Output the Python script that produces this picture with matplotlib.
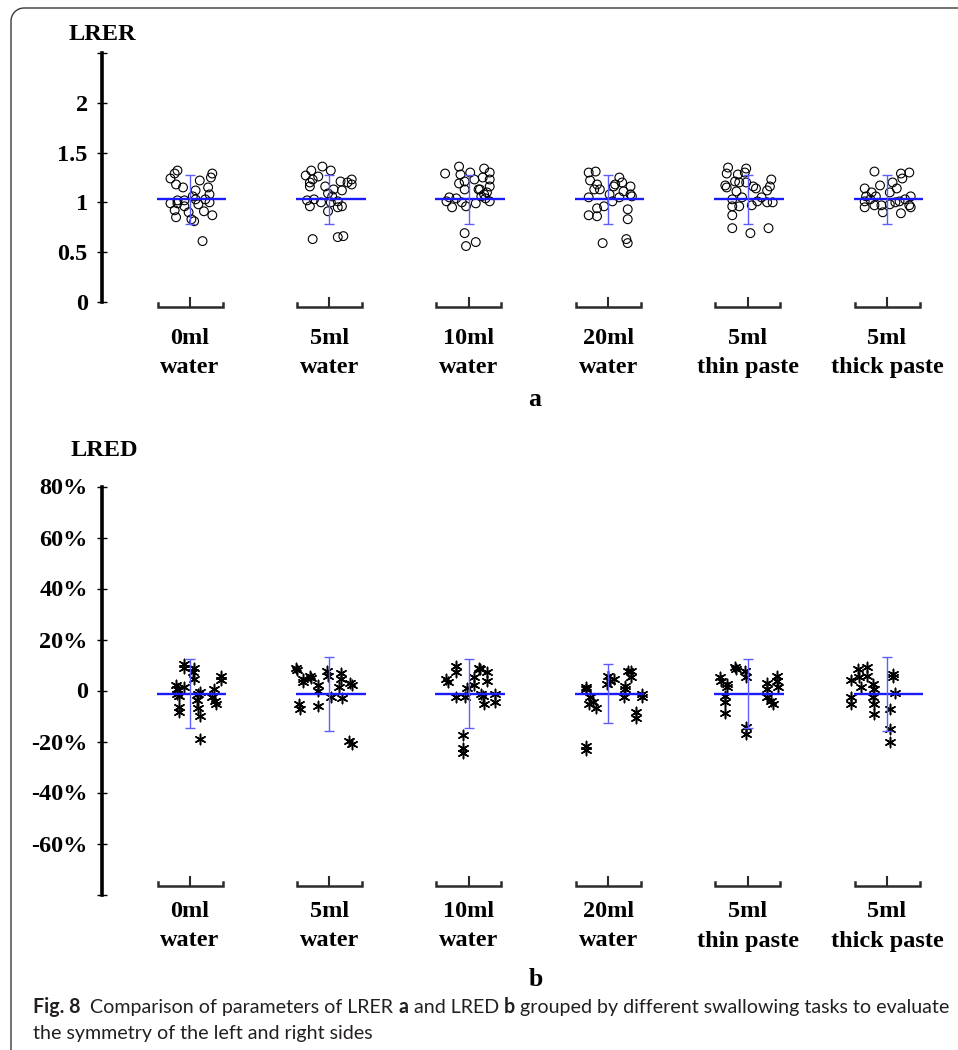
import numpy as np
import matplotlib
matplotlib.use("Agg")
import matplotlib.pyplot as plt
from matplotlib import transforms
from matplotlib.lines import Line2D

W, H, DPI = 958, 1050, 100

tasks = ["0ml\nwater", "5ml\nwater", "10ml\nwater", "20ml\nwater",
         "5ml\nthin paste", "5ml\nthick paste"]

# LRER per task, with horizontal jitter of each point (in task widths)
lrer_values = [
    [1.32, 1.29, 1.24, 1.18, 1.15, 1.22, 1.29, 1.25, 1.12, 1.15, 1.08, 1.06, 0.99, 1.02, 1.02,
     0.99, 0.96, 0.92, 0.90, 0.98, 1.00, 0.91, 0.87, 0.85, 0.83, 0.81, 0.61, 1.03, 1.03],
    [1.36, 1.32, 1.27, 1.32, 1.23, 1.20, 1.16, 1.26, 1.21, 1.23, 1.20, 1.18, 1.13, 1.12, 1.09,
     1.06, 1.02, 1.00, 1.00, 1.01, 0.96, 0.95, 0.96, 0.91, 0.63, 0.65, 0.66, 1.16, 1.03],
    [1.36, 1.29, 1.28, 1.30, 1.19, 1.21, 1.23, 1.13, 1.13, 1.05, 1.04, 0.95, 1.00, 0.96, 0.99,
     1.08, 0.69, 0.56, 0.60, 1.01, 1.34, 1.30, 1.23, 1.25, 1.16, 1.13, 1.10, 1.01, 1.06, 1.04],
    [1.30, 1.31, 1.22, 1.18, 1.13, 1.13, 1.05, 0.96, 0.94, 0.87, 0.86, 0.59, 0.63, 0.59, 1.01,
     1.25, 1.18, 1.20, 1.16, 1.11, 1.05, 1.08, 1.06, 0.93, 0.83, 1.08, 1.16],
    [1.35, 1.29, 1.28, 1.34, 1.30, 1.21, 1.17, 1.15, 1.20, 1.11, 1.20, 1.16, 1.14, 1.23, 1.16,
     1.12, 1.03, 1.05, 1.05, 1.01, 1.00, 1.00, 0.96, 0.96, 0.97, 0.87, 0.74, 0.69, 0.74],
    [1.31, 1.29, 1.30, 1.24, 1.17, 1.20, 1.14, 1.14, 1.10, 1.06, 1.10, 1.06, 1.03, 1.01, 0.97,
     0.97, 0.98, 1.00, 1.01, 0.97, 0.95, 0.95, 0.90, 0.89, 1.03, 1.06],
]
lrer_jitter = [
    [-0.09, -0.11, -0.14, -0.10, -0.05, 0.07, 0.16, 0.15, 0.04, 0.13, 0.14, 0.02, -0.14, -0.09, -0.04,
     -0.09, -0.04, -0.11, -0.01, 0.06, 0.14, 0.10, 0.16, -0.10, 0.01, 0.03, 0.09, 0.04, 0.11],
    [-0.05, -0.13, -0.17, 0.01, -0.12, -0.14, -0.14, -0.08, 0.08, 0.16, 0.13, 0.16, 0.03, 0.09, -0.01,
     0.02, -0.16, -0.06, 0.01, 0.06, -0.14, 0.06, 0.09, -0.01, -0.12, 0.06, 0.10, -0.03, -0.11],
    [-0.07, -0.17, -0.06, 0.01, -0.07, -0.03, 0.04, -0.03, 0.08, -0.14, -0.09, -0.12, -0.05, -0.02, 0.05,
     0.11, -0.03, -0.02, 0.05, -0.16, 0.11, 0.15, 0.15, 0.10, 0.15, 0.07, 0.13, 0.15, 0.09, 0.12],
    [-0.14, -0.09, -0.13, -0.08, -0.10, -0.06, -0.14, -0.03, -0.08, -0.14, -0.08, -0.04, 0.13, 0.14, 0.03,
     0.08, 0.05, 0.10, 0.16, 0.11, 0.08, 0.16, 0.17, 0.14, 0.14, 0.01, 0.04],
    [-0.14, -0.15, -0.07, -0.01, -0.02, -0.09, -0.16, -0.15, -0.06, -0.08, -0.01, 0.04, 0.06, 0.17, 0.16,
     0.14, -0.11, -0.04, 0.10, 0.07, 0.14, 0.18, -0.11, -0.06, 0.03, -0.11, -0.11, 0.02, 0.15],
    [-0.09, 0.10, 0.16, 0.11, -0.05, 0.04, 0.07, -0.16, -0.11, -0.15, 0.02, 0.17, 0.13, -0.16, -0.09,
     -0.04, 0.02, 0.06, 0.09, 0.16, 0.17, -0.16, -0.03, 0.10, -0.12, -0.08],
]
lrer_mean = [1.03, 1.03, 1.03, 1.03, 1.03, 1.03]
lrer_sd = [0.25, 0.25, 0.25, 0.25, 0.25, 0.25]

# LRED per task (percent)
lred_values = [
    [10.3, 8.8, 8.8, 7.1, 4.5, 2.2, 1.2, 0.5, -1.2, -2.1, -0.4, -1.4, -3.8, -6.7, -9.9, -6.4,
     -8.6, -19.1, 0.5, -2.7, -4.0, -5.1, 5.8, 4.1],
    [9.0, 8.0, 4.5, 3.5, 5.8, 4.9, 7.5, 5.8, 2.2, -0.1, -5.3, -7.3, -6.0, -2.5, 6.7, 4.5,
     1.5, -3.0, 3.1, 2.2, -20.8, -19.9],
    [9.7, 7.1, 4.5, 3.5, -2.7, -2.7, 0.9, -17.4, -22.4, -24.7, 9.0, 5.1, 2.2, -1.4, -5.3, 8.4,
     7.1, 3.8, -2.0, -1.2, -4.7],
    [1.2, 0.5, -2.7, -4.7, -5.3, -6.7, -21.7, -23.4, 5.8, 2.5, 4.5, 3.8, 7.7, 7.7, 5.1, 1.8,
     0.5, -2.7, -8.6, -10.6, -1.4, -2.5],
    [9.3, 8.4, 7.7, 5.1, 5.1, 3.8, 2.5, 1.5, -2.1, -4.7, -9.0, -14.5, -17.1, 3.1, 0.5, -2.7,
     -4.0, -5.1, 5.8, 3.8, 1.2],
    [4.1, -2.7, -5.1, 8.4, 5.1, 1.5, 9.3, 5.8, 2.5, 0.5, -2.7, -5.1, -9.3, 6.4, 5.1, -0.8,
     -7.3, -15.1, -20.0],
]
lred_jitter = [
    [-0.04, -0.04, 0.03, 0.02, 0.03, -0.10, -0.04, -0.09, -0.09, -0.08, 0.07, 0.06, 0.05, 0.06, 0.07, -0.08,
     -0.08, 0.07, 0.17, 0.16, 0.18, 0.19, 0.22, 0.22],
    [-0.24, -0.23, -0.19, -0.19, -0.14, -0.13, -0.02, -0.01, -0.08, -0.08, -0.22, -0.21, -0.08, 0.01, 0.08, 0.08,
     0.07, 0.09, 0.15, 0.16, 0.16, 0.14],
    [-0.09, -0.09, -0.16, -0.15, -0.09, -0.03, -0.01, -0.04, -0.04, -0.04, 0.07, 0.04, 0.04, 0.09, 0.11, 0.08,
     0.13, 0.13, 0.10, 0.19, 0.19],
    [-0.16, -0.16, -0.13, -0.11, -0.14, -0.09, -0.16, -0.16, 0.00, -0.01, 0.04, 0.01, 0.14, 0.16, 0.16, 0.12,
     0.12, 0.11, 0.20, 0.20, 0.24, 0.24],
    [-0.09, -0.08, -0.02, -0.01, -0.20, -0.19, -0.15, -0.15, -0.16, -0.16, -0.16, -0.01, -0.01, 0.14, 0.14, 0.14,
     0.17, 0.18, 0.21, 0.21, 0.22],
    [-0.26, -0.26, -0.26, -0.21, -0.20, -0.19, -0.14, -0.14, -0.10, -0.09, -0.10, -0.09, -0.09, 0.04, 0.04, 0.06,
     0.02, 0.02, 0.02],
]
lred_mean = [-1.2, -1.2, -1.2, -1.2, -1.2, -1.2]
lred_sd = [13.5, 14.5, 13.7, 11.7, 13.5, 14.5]

lrer_ticks = [0, 0.5, 1, 1.5, 2, 2.5]
lrer_ticklabels = ["0", "0.5", "1", "1.5", "2", ""]
lred_ticks = [-80, -60, -40, -20, 0, 20, 40, 60, 80]
lred_ticklabels = ["", "-60%", "-40%", "-20%", "0", "20%", "40%", "60%", "80%"]

BLUE = "#1a1aff"
EBLUE = "#5c5cff"
SERIF = ["Liberation Serif", "DejaVu Serif"]
plt.rcParams["font.family"] = SERIF

fig = plt.figure(figsize=(W / DPI, H / DPI), dpi=DPI)

X_LEFT, X_RIGHT = 102, 958
X_FIRST, X_STEP = 190, 139.4


def fy(px):
    return 1 - px / H


def add_panel(v_lo, px_lo, v_hi, px_hi, top_px, bottom_px):
    ppu = (px_lo - px_hi) / (v_hi - v_lo)
    ax = fig.add_axes([X_LEFT / W, fy(bottom_px), (X_RIGHT - X_LEFT) / W, (bottom_px - top_px) / H])
    ax.set_xlim((X_LEFT - X_FIRST) / X_STEP, (X_RIGHT - X_FIRST) / X_STEP)
    ax.set_ylim(v_lo - (bottom_px - px_lo) / ppu, v_hi + (px_hi - top_px) / ppu)
    ax.patch.set_alpha(0)
    for s in ("top", "right", "bottom"):
        ax.spines[s].set_visible(False)
    ax.spines["left"].set_bounds(v_lo, v_hi)
    ax.spines["left"].set_linewidth(2.6)
    ax.set_xticks([])
    ax.tick_params(axis="y", direction="inout", length=6.5, width=1.0, pad=7.0)
    return ax, ppu


def task_axis(ax, ppu, y_val, label_px):
    half = 32.5 / X_STEP
    end = 4 / ppu
    mid = 8.5 / ppu
    trans = transforms.blended_transform_factory(ax.transData, fig.transFigure)
    for i, name in enumerate(tasks):
        ax.plot([i - half, i - half, i + half, i + half], [y_val + end, y_val, y_val, y_val + end],
                color="#2b2b2b", lw=1.8, clip_on=False, solid_joinstyle="miter")
        ax.plot([i, i], [y_val, y_val + mid], color="#2b2b2b", lw=1.5, clip_on=False)
        for line, base in zip(name.split("\n"), label_px):
            ax.text(i, fy(base), line, transform=trans, ha="center", va="baseline",
                    fontsize=17.5, fontweight="bold")


def mean_sd(ax, means, sds):
    x = np.arange(len(means))
    ax.hlines(means, x - 0.24, x + 0.26, color=BLUE, lw=1.7, zorder=4)
    ax.errorbar(x, means, yerr=sds, fmt="none", ecolor=EBLUE, elinewidth=1.0,
                capsize=3.4, capthick=1.0, zorder=4)


# ---- panel a: LRER ----
ax1, ppu1 = add_panel(0, 301.7, 2.5, 53.3, 40, 330)
for i, (vals, jit) in enumerate(zip(lrer_values, lrer_jitter)):
    ax1.scatter(i + np.array(jit), vals, s=40, facecolors="none", edgecolors="black",
                linewidths=0.8, zorder=3)
mean_sd(ax1, lrer_mean, lrer_sd)
ax1.set_yticks(lrer_ticks)
ax1.set_yticklabels(lrer_ticklabels, fontsize=17.5, fontweight="bold")
task_axis(ax1, ppu1, -5 / ppu1, [344, 373])

# ---- panel b: LRED ----
ax2, ppu2 = add_panel(-80, 894.5, 80, 486.5, 470, 905)
for i, (vals, jit) in enumerate(zip(lred_values, lred_jitter)):
    ax2.scatter(i + np.array(jit), vals, s=55, marker=(6, 2, 0), color="black",
                linewidths=1.1, zorder=3)
mean_sd(ax2, lred_mean, lred_sd)
ax2.set_yticks(lred_ticks)
ax2.set_yticklabels(lred_ticklabels, fontsize=17.5, fontweight="bold")
task_axis(ax2, ppu2, -80 + 8.8 / ppu2, [917, 946.5])

# axis titles and panel letters
fig.text(102 / W, fy(40), "LRER", ha="center", va="baseline", fontsize=17.5, fontweight="bold")
fig.text(104 / W, fy(456), "LRED", ha="center", va="baseline", fontsize=17.5, fontweight="bold")
fig.text(535 / W, fy(406.5), "a", ha="center", va="baseline", fontsize=18.5, fontweight="bold")
fig.text(536 / W, fy(986.5), "b", ha="center", va="baseline", fontsize=18.5, fontweight="bold")

# caption, pieces laid out one after another, shrunk until line 1 fits
CAP = ["Lato", "DejaVu Sans"]
CAP_X0, CAP_X1 = 33.0, 950.0
renderer = fig.canvas.get_renderer()
caption_lines = [
    (1012.7, [("Fig. 8", "bold", 2.0), ("Comparison of parameters of LRER", "normal", 1), ("a", "bold", 1),
              ("and LRED", "normal", 1), ("b", "bold", 1),
              ("grouped by different swallowing tasks to evaluate", "normal", 0)]),
    (1039.3, [("the symmetry of the left and right sides", "normal", 0)]),
]


def text_width(s, weight, size):
    t = fig.text(0, 0, s, fontsize=size, family=CAP, fontweight=weight)
    w = t.get_window_extent(renderer).width
    t.remove()
    return w


def line_width(pieces, size):
    sp = text_width("n n", "normal", size) - text_width("nn", "normal", size)
    return sum(text_width(s, w, size) + g * sp for s, w, g in pieces), sp


cap_size = 15.5
while line_width(caption_lines[0][1], cap_size)[0] > CAP_X1 - CAP_X0 and cap_size > 10:
    cap_size -= 0.1
space = line_width(caption_lines[0][1], cap_size)[1]

for base, pieces in caption_lines:
    x = CAP_X0
    for s, weight, gap in pieces:
        t = fig.text(x / W, fy(base), s, fontsize=cap_size, family=CAP, fontweight=weight,
                     color="#231f20", va="baseline", ha="left")
        x += t.get_window_extent(renderer).width + gap * space

# frame of the figure box (rounded top-left corner)
r = 13
ang = np.linspace(np.pi / 2, np.pi, 12)
fx = np.concatenate([[958], 11 + r + r * np.cos(ang), [11]])
fyy = np.concatenate([[8], 8 + r - r * np.sin(ang), [1050]])
fig.add_artist(Line2D(fx / W, 1 - fyy / H, transform=fig.transFigure, color="#3a3a3a", lw=1.0))

fig.savefig("out.png", dpi=DPI)
